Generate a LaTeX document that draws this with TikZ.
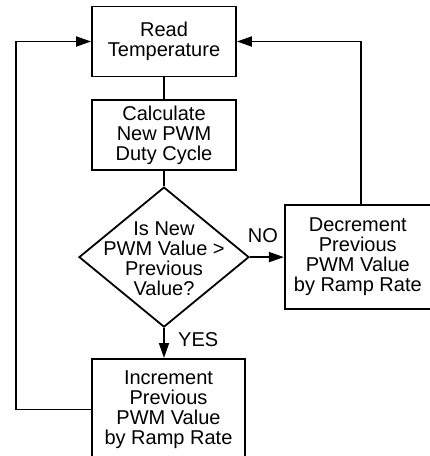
\documentclass[tikz,border=0pt]{standalone}
\usepackage{fontspec}
\setmainfont{Liberation Sans}
\usetikzlibrary{arrows.meta, positioning, shapes.geometric}

\begin{document}
\begin{tikzpicture}[
  x=1pt, y=-1pt,
  box/.style={draw, line width=1.8pt, align=center, font=\fontsize{20}{20}\selectfont,
              inner sep=0pt, minimum width=144pt, minimum height=70pt},
  decision/.style={draw, diamond, line width=1.8pt, minimum width=170pt, minimum height=140pt, inner sep=0pt},
  lbl/.style={font=\fontsize{20}{20}\selectfont},
  line/.style={line width=1.8pt},
  arr/.style={-{Triangle[length=15pt, width=10pt]}, line width=1.8pt},
  node distance=22pt
]
\useasboundingbox (0,0) rectangle (430,456);

\node[box] (read) at (164,41.5) {Read\\Temperature};
\node[box, below=of read] (calc) {Calculate\\New PWM\\Duty Cycle};
\node[decision, below=15pt of calc] (test) {};
\node[lbl, align=center, yshift=-2pt] (testtxt) at (test.center) {Is New\\PWM Value >\\Previous\\Value?};
\node[box, minimum width=153pt, minimum height=101pt, below=30pt of test, xshift=4.5pt] (inc)
  {Increment\\Previous\\PWM Value\\by Ramp Rate};
\node[box, minimum width=146pt, minimum height=104pt, right=34pt of test] (dec)
  {Decrement\\Previous\\PWM Value\\by Ramp Rate};

\draw[line] (read) -- (calc);
\draw[line] (calc) -- (test);
\draw[arr] (test) -- node[lbl, above=10pt, pos=0.38]{NO} (dec);
\draw[arr] (test.south) -- node[lbl, right=10pt, pos=0.38]{YES} (test.south |- inc.north);
\draw[arr] (inc.west) -- ++(-75,0) |- (read.west);
\draw[arr] ([xshift=3pt]dec.north) |- (read.east);
\end{tikzpicture}
\end{document}
